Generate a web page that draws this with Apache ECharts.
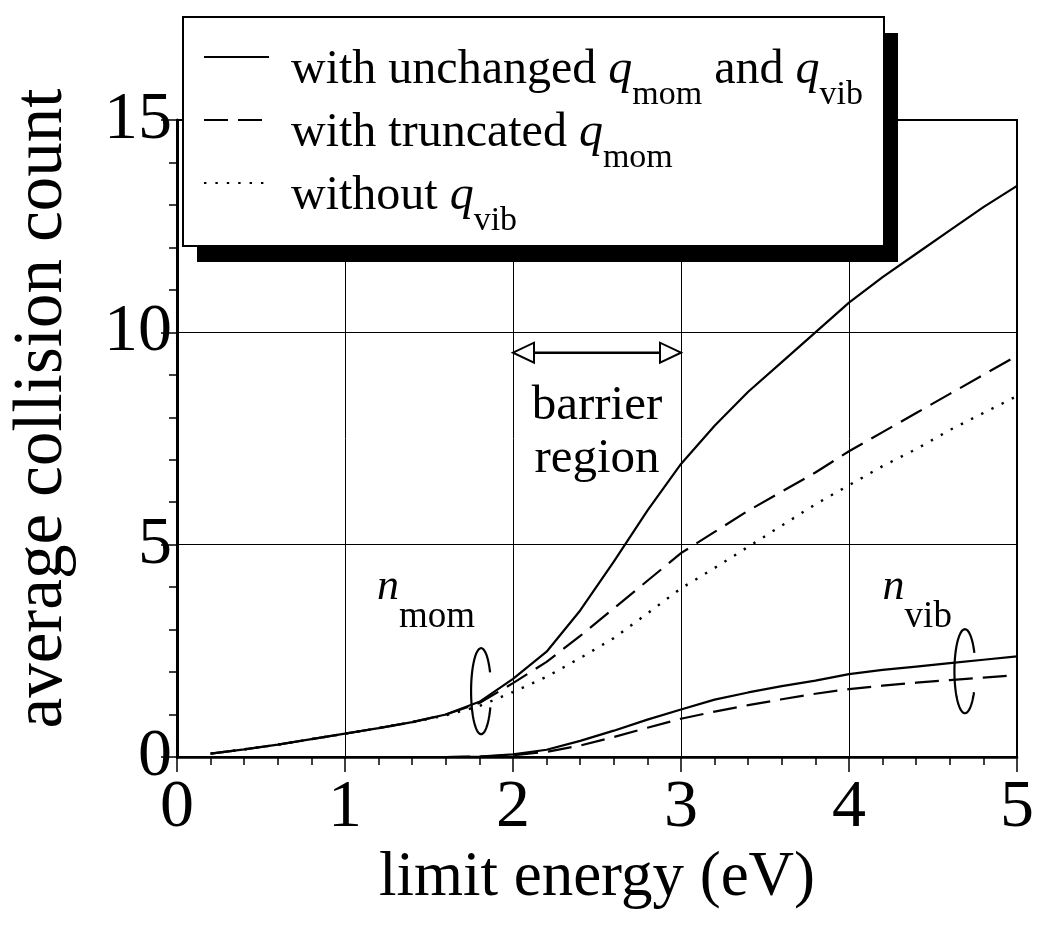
<!DOCTYPE html>
<html>
<head>
<meta charset="utf-8" />
<script src="https://cdn.jsdelivr.net/npm/echarts@6/dist/echarts.min.js"></script>
<style>html,body{margin:0;padding:0;background:#fff;}</style>
</head>
<body>
<div id="main" style="width:1037px;height:932px;"></div>
<script type="text/javascript">
var FONT = '"Liberation Serif", "Times New Roman", serif';

// limit energy (eV)
var energy = [0.2, 0.4, 0.6, 0.8, 1.0, 1.2, 1.4, 1.6, 1.8, 2.0, 2.2, 2.4, 2.6,
              2.8, 3.0, 3.2, 3.4, 3.6, 3.8, 4.0, 4.2, 4.4, 4.6, 4.8, 5.0];
// n_mom curves
var momUnchanged = [0.08, 0.18, 0.29, 0.42, 0.55, 0.68, 0.82, 1.0, 1.3, 1.84, 2.48, 3.45, 4.6,
                    5.8, 6.9, 7.8, 8.6, 9.3, 10.0, 10.7, 11.3, 11.85, 12.4, 12.95, 13.45];
var momTruncated = [0.08, 0.18, 0.29, 0.42, 0.55, 0.68, 0.82, 1.0, 1.27, 1.74, 2.24, 2.85, 3.5,
                    4.15, 4.8, 5.3, 5.8, 6.25, 6.7, 7.2, 7.65, 8.1, 8.55, 9.0, 9.45];
var momNoVib = [0.08, 0.18, 0.29, 0.42, 0.55, 0.68, 0.82, 0.98, 1.2, 1.53, 1.89, 2.33, 2.8,
                3.38, 3.97, 4.45, 4.95, 5.45, 5.95, 6.4, 6.85, 7.25, 7.7, 8.1, 8.5];
// n_vib curves
var vibEnergy = [1.4, 1.6, 1.8, 2.0, 2.2, 2.4, 2.6, 2.8, 3.0, 3.2, 3.4, 3.6, 3.8, 4.0,
                 4.2, 4.4, 4.6, 4.8, 5.0];
var vibUnchanged = [0, 0, 0.01, 0.06, 0.17, 0.38, 0.62, 0.88, 1.12, 1.35, 1.52, 1.67, 1.8, 1.95,
                    2.05, 2.13, 2.21, 2.29, 2.37];
var vibTruncated = [0, 0, 0.01, 0.04, 0.12, 0.27, 0.47, 0.69, 0.9, 1.07, 1.22, 1.36, 1.49, 1.6,
                    1.68, 1.75, 1.81, 1.87, 1.93];

var xTicks = [0, 1, 2, 3, 4, 5];
var yTicks = [0, 5, 10, 15];

var legendText = {
    unchanged: '{f|with unchanged }{q|q}{s|mom}{t| and }{q|q}{s|vib}',
    truncated: '{f|with truncated }{q|q}{s|mom}',
    noVib: '{f|without }{q|q}{s|vib}'
};

// annotation anchors in data units
var arrowEnds = [[2, 9.52], [3, 9.52]];
var barrierPos = [2.5, 7.64];
var nMomPos = [1.19, 4.0];
var nVibPos = [4.2, 4.0];
var ringMom = [1.81, 1.55];
var ringVib = [4.69, 2.02];

function pairs(xs, ys) {
    return xs.map(function (x, i) { return [x, ys[i]]; });
}

var myChart = echarts.init(document.getElementById('main'));

var option = {
    backgroundColor: '#fff',
    animation: false,
    color: ['#000'],
    grid: {
        left: 173, right: 16, top: 120, bottom: 175,
        show: true, borderColor: '#000', borderWidth: 2
    },
    legend: {
        data: ['unchanged', 'truncated', 'noVib'],
        orient: 'vertical',
        left: 203, top: 2,
        padding: 0,
        itemWidth: 65, itemHeight: 14, itemGap: -47,
        selectedMode: false,
        z: 20,
        itemStyle: { opacity: 0 },
        formatter: function (name) { return legendText[name]; },
        textStyle: {
            color: '#000', fontFamily: FONT, fontSize: 48,
            rich: {
                f: { fontFamily: FONT, fontSize: 48, padding: [26, 0, 0, 17], lineHeight: 63 },
                t: { fontFamily: FONT, fontSize: 48, padding: [26, 0, 0, 0], lineHeight: 63 },
                q: { fontFamily: FONT, fontSize: 48, fontStyle: 'italic', padding: [26, 0, 0, 0], lineHeight: 63 },
                s: { fontFamily: FONT, fontSize: 34, padding: [76, 0, 0, 0], lineHeight: 63 }
            }
        }
    },
    xAxis: {
        type: 'value', min: 0, max: 5, interval: 1,
        name: 'limit energy (eV)', nameLocation: 'middle', nameGap: 90,
        nameTextStyle: { color: '#000', fontFamily: FONT, fontSize: 63 },
        axisLine: { lineStyle: { color: '#000', width: 2.5 } },
        axisTick: { length: 15, lineStyle: { color: '#000', width: 1.5 } },
        minorTick: { show: true, splitNumber: 5, length: 8, lineStyle: { color: '#000', width: 1.5 } },
        splitLine: { show: true, lineStyle: { color: '#000', width: 1 } },
        axisLabel: {
            color: '#000', fontFamily: FONT, fontSize: 68, margin: 17,
            formatter: function (v) { return xTicks.indexOf(v) >= 0 ? String(v) : ''; }
        }
    },
    yAxis: {
        type: 'value', min: 0, max: 15, interval: 5,
        name: 'average collision count', nameLocation: 'middle', nameGap: 100,
        nameTextStyle: { color: '#000', fontFamily: FONT, fontSize: 69, padding: [0, 0, 0, 60] },
        axisLine: { show: true, lineStyle: { color: '#000', width: 3 } },
        axisTick: { show: true, length: 16, lineStyle: { color: '#000', width: 1.5 } },
        minorTick: { show: true, splitNumber: 5, length: 8, lineStyle: { color: '#000', width: 1.5 } },
        splitLine: { show: true, lineStyle: { color: '#000', width: 1 } },
        axisLabel: {
            color: '#000', fontFamily: FONT, fontSize: 68, margin: 5,
            formatter: function (v) { return yTicks.indexOf(v) >= 0 ? String(v) : ''; }
        }
    },
    series: [
        {
            name: 'unchanged', type: 'line', symbol: 'none', z: 3,
            lineStyle: { color: '#000', width: 2.2 },
            data: pairs(energy, momUnchanged)
        },
        {
            name: 'truncated', type: 'line', symbol: 'none', z: 3,
            lineStyle: { color: '#000', width: 2.2, type: [24, 10] },
            data: pairs(energy, momTruncated)
        },
        {
            name: 'noVib', type: 'line', symbol: 'none', z: 3,
            lineStyle: { color: '#000', width: 2.4, type: [2.4, 9] },
            data: pairs(energy, momNoVib)
        },
        {
            name: 'vibUnchanged', type: 'line', symbol: 'none', z: 3,
            lineStyle: { color: '#000', width: 2.2 },
            data: pairs(vibEnergy, vibUnchanged)
        },
        {
            name: 'vibTruncated', type: 'line', symbol: 'none', z: 3,
            lineStyle: { color: '#000', width: 2.2, type: [24, 10] },
            data: pairs(vibEnergy, vibTruncated)
        }
    ]
};

myChart.setOption(option);

// annotations placed through the grid's coordinate system
function px(p) { return myChart.convertToPixel({ gridIndex: 0 }, p); }

// open ring drawn round a pair of curves (gap on its right side)
function ringPoints(c, rx, ry, a0, a1) {
    var pts = [];
    for (var a = a0; a <= a1; a += 4) {
        var r = a * Math.PI / 180;
        pts.push([c[0] + rx * Math.cos(r), c[1] + ry * Math.sin(r)]);
    }
    return pts;
}

var a0 = px(arrowEnds[0]), a1 = px(arrowEnds[1]);
var head = 21, half = 10;
function subRich() {
    return {
        n: { fontFamily: FONT, fontSize: 44, fontStyle: 'italic', lineHeight: 50 },
        s: { fontFamily: FONT, fontSize: 37, padding: [60, 0, 0, 0], lineHeight: 50 }
    };
}
var pMom = px(nMomPos), pVib = px(nVibPos), pBar = px(barrierPos);

myChart.setOption({
    graphic: [
        { type: 'rect', z: 10, shape: { x: 197, y: 33, width: 701, height: 229 }, style: { fill: '#000' } },
        { type: 'rect', z: 11, shape: { x: 183, y: 17, width: 701, height: 229 },
          style: { fill: '#fff', stroke: '#000', lineWidth: 2 } },
        { type: 'line', z: 5, shape: { x1: a0[0] + head, y1: a0[1], x2: a1[0] - head, y2: a1[1] },
          style: { stroke: '#000', lineWidth: 2.5 } },
        { type: 'polygon', z: 6,
          shape: { points: [[a0[0], a0[1]], [a0[0] + head, a0[1] - half], [a0[0] + head, a0[1] + half]] },
          style: { fill: '#fff', stroke: '#000', lineWidth: 2 } },
        { type: 'polygon', z: 6,
          shape: { points: [[a1[0], a1[1]], [a1[0] - head, a1[1] - half], [a1[0] - head, a1[1] + half]] },
          style: { fill: '#fff', stroke: '#000', lineWidth: 2 } },
        { type: 'text', z: 6, x: pBar[0], y: pBar[1],
          style: { text: 'barrier\nregion', align: 'center', verticalAlign: 'middle',
                   fontFamily: FONT, fontSize: 49, lineHeight: 53, fill: '#000' } },
        { type: 'text', z: 6, x: pMom[0], y: pMom[1],
          style: { text: '{n|n}{s|mom}', align: 'left', verticalAlign: 'middle', fill: '#000', rich: subRich() } },
        { type: 'text', z: 6, x: pVib[0], y: pVib[1],
          style: { text: '{n|n}{s|vib}', align: 'left', verticalAlign: 'middle', fill: '#000', rich: subRich() } },
        { type: 'polyline', z: 6, shape: { points: ringPoints(px(ringMom), 10, 43, 22, 334) },
          style: { fill: 'none', stroke: '#000', lineWidth: 2.2 } },
        { type: 'polyline', z: 6, shape: { points: ringPoints(px(ringVib), 10.5, 42, 30, 334) },
          style: { fill: 'none', stroke: '#000', lineWidth: 2.2 } }
    ]
});
</script>
</body>
</html>
